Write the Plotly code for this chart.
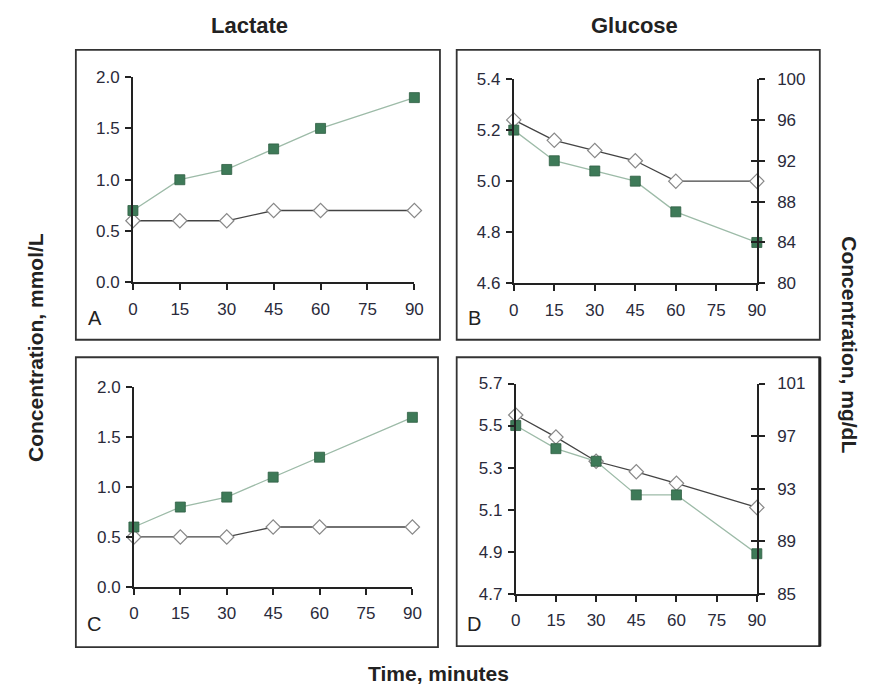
import plotly.graph_objects as go

W, H = 879, 698

time_min = [0, 15, 30, 45, 60, 90]
x_ticks = [0, 15, 30, 45, 60, 75, 90]

lactate_A_green = [0.7, 1.0, 1.1, 1.3, 1.5, 1.8]
lactate_A_white = [0.6, 0.6, 0.6, 0.7, 0.7, 0.7]
glucose_B_green = [5.2, 5.08, 5.04, 5.0, 4.88, 4.76]
glucose_B_white = [5.24, 5.16, 5.12, 5.08, 5.0, 5.0]
lactate_C_green = [0.6, 0.8, 0.9, 1.1, 1.3, 1.7]
lactate_C_white = [0.5, 0.5, 0.5, 0.6, 0.6, 0.6]
glucose_D_green = [5.5, 5.39, 5.33, 5.17, 5.17, 4.89]
glucose_D_white = [5.55, 5.445, 5.33, 5.28, 5.225, 5.11]

lactate_ticks = [0.0, 0.5, 1.0, 1.5, 2.0]
glucoseB_ticks = [4.6, 4.8, 5.0, 5.2, 5.4]
glucoseB_mg_ticks = [80, 84, 88, 92, 96, 100]
glucoseD_ticks = [4.7, 4.9, 5.1, 5.3, 5.5, 5.7]
glucoseD_mg_ticks = [85, 89, 93, 97, 101]

GREEN = "#3e7a58"
GREEN_LINE = "#9dbba8"
DIAM_LINE = "#444444"
FONT = "Liberation Sans"
TICKC = "#2a2a3a"


def px(x):
    return x / W


def py(y):
    return 1 - y / H


fig = go.Figure()

panels = [
    ("x", "y", lactate_A_green, lactate_A_white),
    ("x2", "y2", glucose_B_green, glucose_B_white),
    ("x3", "y3", lactate_C_green, lactate_C_white),
    ("x4", "y4", glucose_D_green, glucose_D_white),
]
for xa, ya, g, w in panels:
    fig.add_trace(go.Scatter(
        x=time_min, y=w, xaxis=xa, yaxis=ya, mode="lines+markers",
        line=dict(color=DIAM_LINE, width=1.3),
        marker=dict(symbol="diamond", size=11, color="white",
                    line=dict(color="#888888", width=1.2)),
        cliponaxis=False, showlegend=False))
    fig.add_trace(go.Scatter(
        x=time_min, y=g, xaxis=xa, yaxis=ya, mode="lines+markers",
        line=dict(color=GREEN_LINE, width=1.3),
        marker=dict(symbol="square", size=10, color=GREEN,
                    line=dict(color="#2e5e42", width=0.8)),
        cliponaxis=False, showlegend=False))

# invisible carriers so the secondary (mg/dL) axes are drawn
for xa, ya, vals in [("x2", "y5", glucoseB_mg_ticks), ("x4", "y6", glucoseD_mg_ticks),
                     ("x2", "y7", glucoseB_mg_ticks), ("x4", "y8", glucoseD_mg_ticks)]:
    fig.add_trace(go.Scatter(x=[0], y=[vals[0]], xaxis=xa, yaxis=ya, mode="markers",
                             marker=dict(opacity=0), hoverinfo="skip",
                             showlegend=False))

tickfont = dict(family=FONT, size=17, color=TICKC)


def xaxis(dom, anchor):
    return dict(domain=[px(dom[0]), px(dom[1])], anchor=anchor, range=[0, 90],
                tickvals=x_ticks, ticks="outside", ticklen=6, tickwidth=1.6,
                tickcolor="#222", showline=True, linecolor="#222", linewidth=1.8,
                showgrid=False, zeroline=False, tickfont=tickfont,
                ticklabelstandoff=4, fixedrange=True)


def yaxis(dom, anchor, rng, tv, fmt):
    return dict(domain=[py(dom[1]), py(dom[0])], anchor=anchor, range=rng,
                tickvals=tv, tickformat=fmt, ticks="outside", ticklen=6,
                tickwidth=1.6, tickcolor="#222", showline=True, linecolor="#222",
                linewidth=1.8, showgrid=False, zeroline=False, tickfont=tickfont,
                ticklabelstandoff=2, fixedrange=True)


def yright(dom, anchor, rng, tv, overlay):
    return dict(domain=[py(dom[1]), py(dom[0])], anchor=anchor, overlaying=overlay,
                side="right", range=rng, tickvals=tv, ticks="outside", ticklen=6,
                tickwidth=1.6, tickcolor="#222", showline=True, linecolor="#222",
                linewidth=1.8, showgrid=False, zeroline=False, tickfont=tickfont,
                ticklabelstandoff=9, fixedrange=True)


def yright_in(dom, anchor, rng, tv, overlay):
    return dict(domain=[py(dom[1]), py(dom[0])], anchor=anchor, overlaying=overlay,
                side="right", range=rng, tickvals=tv, ticks="inside", ticklen=6,
                tickwidth=1.6, tickcolor="#222", showline=False,
                showticklabels=False, showgrid=False, zeroline=False,
                fixedrange=True)


A_x, A_y = (130, 416), (70, 281)
B_x, B_y = (517, 764), (72, 282)
C_x, C_y = (131, 414), (389, 594)
D_x, D_y = (519, 764), (385, 601)

fig.update_layout(
    width=W, height=H, margin=dict(l=0, r=0, t=0, b=0),
    paper_bgcolor="white", plot_bgcolor="rgba(0,0,0,0)",
    font=dict(family=FONT),
    xaxis=xaxis(A_x, "y"),
    yaxis=yaxis(A_y, "x", [0, 2], lactate_ticks, ".1f"),
    xaxis2=xaxis(B_x, "y2"),
    yaxis2=yaxis(B_y, "x2", [4.6, 5.4], glucoseB_ticks, ".1f"),
    xaxis3=xaxis(C_x, "y3"),
    yaxis3=yaxis(C_y, "x3", [0, 2], lactate_ticks, ".1f"),
    xaxis4=xaxis(D_x, "y4"),
    yaxis4=yaxis(D_y, "x4", [4.7, 5.7], glucoseD_ticks, ".1f"),
    yaxis5=yright(B_y, "x2", [80, 100], glucoseB_mg_ticks, "y2"),
    yaxis6=yright(D_y, "x4", [85, 101], glucoseD_mg_ticks, "y4"),
    yaxis7=yright_in(B_y, "x2", [80, 100], glucoseB_mg_ticks, "y2"),
    yaxis8=yright_in(D_y, "x4", [85, 101], glucoseD_mg_ticks, "y4"),
)

# panel frames
boxes = [(72, 42, 442, 340), (459, 42, 828, 340), (72, 358, 440, 656), (459, 358, 828, 655)]
for x0, y0, x1, y1 in boxes:
    fig.add_shape(type="rect", xref="paper", yref="paper",
                  x0=px(x0), x1=px(x1), y0=py(y1), y1=py(y0),
                  line=dict(color="#333333", width=1.8), layer="below")
fig.add_shape(type="line", xref="paper", yref="paper", x0=px(828), x1=px(828),
              y0=py(655), y1=py(358), line=dict(color="#222", width=3))

ann = []
for t, x, y, in [("A", 91, 318), ("B", 477, 318), ("C", 90, 632), ("D", 477, 632)]:
    ann.append(dict(text=t, x=px(x), y=py(y), xref="paper", yref="paper",
                    showarrow=False, font=dict(family=FONT, size=20, color="#222"),
                    xanchor="center", yanchor="middle"))
title_font = dict(family=FONT, size=22, color="#222")
label_font = dict(family=FONT, size=21, color="#222")
ann += [
    dict(text="<b>Lactate</b>", x=px(248), y=py(17), xref="paper", yref="paper",
         showarrow=False, font=title_font, xanchor="center", yanchor="middle"),
    dict(text="<b>Glucose</b>", x=px(640), y=py(17), xref="paper", yref="paper",
         showarrow=False, font=title_font, xanchor="center", yanchor="middle"),
    dict(text="<b>Time, minutes</b>", x=px(441), y=py(683), xref="paper", yref="paper",
         showarrow=False, font=label_font, xanchor="center", yanchor="middle"),
    dict(text="<b>Concentration, mmol/L</b>", x=px(31), y=py(348), xref="paper",
         yref="paper", showarrow=False, font=label_font, textangle=-90,
         xanchor="center", yanchor="middle"),
    dict(text="<b>Concentration, mg/dL</b>", x=px(858), y=py(345), xref="paper",
         yref="paper", showarrow=False, font=label_font, textangle=90,
         xanchor="center", yanchor="middle"),
]
fig.update_layout(annotations=ann)

fig.write_html("out.html")
